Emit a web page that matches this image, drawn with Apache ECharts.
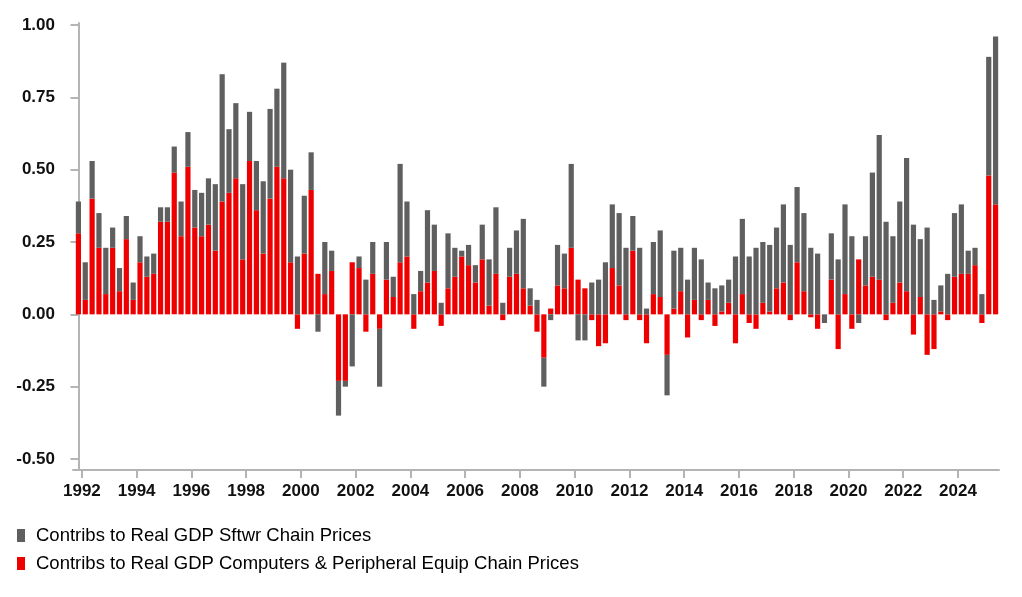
<!DOCTYPE html>
<html>
<head>
<meta charset="utf-8">
<script src="https://cdn.jsdelivr.net/npm/echarts@6/dist/echarts.min.js"></script>
<style>
html,body{margin:0;padding:0;background:#ffffff;}
#chart{width:1022px;height:597px;}
</style>
</head>
<body>
<div id="chart"></div>
<script>
// Quarterly categories: 1991 Q4 .. 2025 Q2
const firstYear = 1991, firstQuarter = 4, lastYear = 2025, lastQuarter = 2;
const quarters = [];
(function () {
  let y = firstYear, q = firstQuarter;
  while (y < lastYear || (y === lastYear && q <= lastQuarter)) {
    quarters.push(y + ' Q' + q);
    q++; if (q > 4) { q = 1; y++; }
  }
})();

const seriesNames = [
  'Contribs to Real GDP Sftwr Chain Prices',
  'Contribs to Real GDP Computers & Peripheral Equip Chain Prices'
];

// Computers & peripheral equipment contribution (red)
const computers = [
  0.28, 0.05, 0.40, 0.23, 0.07, 0.23, 0.08, 0.26, 0.05, 0.18,
  0.13, 0.14, 0.32, 0.32, 0.49, 0.27, 0.51, 0.30, 0.27, 0.31,
  0.22, 0.39, 0.42, 0.47, 0.19, 0.53, 0.36, 0.21, 0.40, 0.51,
  0.47, 0.18, -0.05, 0.21, 0.43, 0.14, 0.07, 0.15, -0.23, -0.23,
  0.18, 0.16, -0.06, 0.14, -0.05, 0.12, 0.06, 0.18, 0.20, -0.05,
  0.08, 0.11, 0.15, -0.04, 0.09, 0.13, 0.20, 0.17, 0.11, 0.19,
  0.03, 0.14, -0.02, 0.13, 0.14, 0.09, 0.03, -0.06, -0.15, 0.02,
  0.10, 0.09, 0.23, 0.12, 0.09, -0.02, -0.11, -0.10, 0.16, 0.10,
  -0.02, 0.22, -0.02, -0.10, 0.07, 0.06, -0.14, 0.02, 0.08, -0.08,
  0.05, -0.02, 0.05, -0.04, 0.01, 0.04, -0.10, 0.07, -0.03, -0.05,
  0.04, 0.01, 0.09, 0.11, -0.02, 0.18, 0.08, -0.01, -0.05, 0.00,
  0.12, -0.12, 0.07, -0.05, 0.19, 0.10, 0.13, 0.12, -0.02, 0.04,
  0.11, 0.08, -0.07, 0.06, -0.14, -0.12, 0.01, -0.02, 0.13, 0.14,
  0.14, 0.17, -0.03, 0.48, 0.38
];

// Software contribution (grey)
const software = [
  0.11, 0.13, 0.13, 0.12, 0.16, 0.07, 0.08, 0.08, 0.06, 0.09,
  0.07, 0.07, 0.05, 0.05, 0.09, 0.12, 0.12, 0.13, 0.15, 0.16,
  0.23, 0.44, 0.22, 0.26, 0.26, 0.17, 0.17, 0.25, 0.31, 0.27,
  0.40, 0.32, 0.20, 0.20, 0.13, -0.06, 0.18, 0.07, -0.12, -0.02,
  -0.18, 0.04, 0.12, 0.11, -0.20, 0.13, 0.07, 0.34, 0.19, 0.07,
  0.07, 0.25, 0.16, 0.04, 0.19, 0.10, 0.02, 0.07, 0.06, 0.12,
  0.16, 0.23, 0.04, 0.10, 0.15, 0.24, 0.06, 0.05, -0.10, -0.02,
  0.14, 0.12, 0.29, -0.09, -0.09, 0.11, 0.12, 0.18, 0.22, 0.25,
  0.23, 0.12, 0.23, 0.02, 0.18, 0.23, -0.14, 0.20, 0.15, 0.12,
  0.18, 0.19, 0.06, 0.09, 0.09, 0.08, 0.20, 0.26, 0.20, 0.23,
  0.21, 0.23, 0.21, 0.27, 0.24, 0.26, 0.27, 0.23, 0.21, -0.03,
  0.16, 0.19, 0.31, 0.27, -0.03, 0.17, 0.36, 0.50, 0.32, 0.23,
  0.28, 0.46, 0.31, 0.20, 0.30, 0.05, 0.09, 0.14, 0.22, 0.24,
  0.08, 0.06, 0.07, 0.41, 0.58
];

const yTickValues = [-0.5, -0.25, 0, 0.25, 0.5, 0.75, 1.0];
const yearLabelStep = 2;

// x ticks at the start of every other year (boundary before the Q1 bar)
const xTickPositions = [];
const xTickLabels = {};
quarters.forEach(function (qs, i) {
  const parts = qs.split(' Q');
  const yr = +parts[0], q = +parts[1];
  if (q === 1 && yr % yearLabelStep === 0) {
    const pos = i - 0.5;
    xTickPositions.push(pos);
    xTickLabels[pos] = String(yr);
  }
});

const yMin = -0.538, yMax = 1.007;
const font = "'Liberation Sans', Arial, sans-serif";
const axisColor = '#b4b4b4';
const chart = echarts.init(document.getElementById('chart'), null, {renderer: 'canvas'});

chart.setOption({
  animation: false,
  backgroundColor: '#ffffff',
  grid: [
    {left: 75, right: 23, top: 23, bottom: 127, containLabel: false},
    {left: 73, right: 23, top: 23, bottom: 127, containLabel: false}
  ],
  legend: {
    orient: 'vertical',
    left: 17,
    top: 526,
    padding: 0,
    icon: 'rect',
    itemWidth: 8,
    itemHeight: 13,
    itemGap: 9,
    data: seriesNames,
    selectedMode: false,
    textStyle: {fontFamily: font, fontSize: 18.5, color: '#000000', lineHeight: 18, padding: [0, 0, 0, 6]}
  },
  xAxis: [
    {
      gridIndex: 0,
      type: 'category',
      data: quarters,
      boundaryGap: true,
      axisLine: {show: false},
      axisTick: {show: false},
      axisLabel: {show: false},
      splitLine: {show: false}
    },
    {
      gridIndex: 1,
      type: 'value',
      min: -0.8,
      max: quarters.length - 0.5,
      splitLine: {show: false},
      axisLine: {show: true, onZero: false, lineStyle: {color: axisColor, width: 2}},
      axisTick: {show: true, length: 8, customValues: xTickPositions, lineStyle: {color: axisColor, width: 2}},
      axisLabel: {
        customValues: xTickPositions,
        margin: 13,
        fontFamily: font,
        fontSize: 17,
        fontWeight: 'bold',
        color: '#111111',
        formatter: function (v) { return xTickLabels[v] || ''; }
      }
    }
  ],
  yAxis: [
    {
      gridIndex: 0,
      type: 'value',
      min: yMin,
      max: yMax,
      show: false,
      splitLine: {show: false}
    },
    {
      gridIndex: 1,
      type: 'value',
      min: yMin,
      max: yMax,
      splitLine: {show: false},
      axisLine: {show: true, lineStyle: {color: axisColor, width: 2}},
      axisTick: {show: true, length: 8, customValues: yTickValues, lineStyle: {color: axisColor, width: 2}},
      axisLabel: {
        customValues: yTickValues,
        margin: 18,
        fontFamily: font,
        fontSize: 17,
        fontWeight: 'bold',
        color: '#111111',
        formatter: function (v) { return v.toFixed(2); }
      }
    }
  ],
  series: [
    {
      name: seriesNames[1],
      type: 'bar',
      xAxisIndex: 0,
      yAxisIndex: 0,
      stack: 'total',
      barWidth: 5.2,
      itemStyle: {color: '#ee0000'},
      data: computers
    },
    {
      name: seriesNames[0],
      type: 'bar',
      xAxisIndex: 0,
      yAxisIndex: 0,
      stack: 'total',
      barWidth: 5.2,
      itemStyle: {color: '#5f5f5f'},
      data: software
    }
  ]
});
</script>
</body>
</html>
